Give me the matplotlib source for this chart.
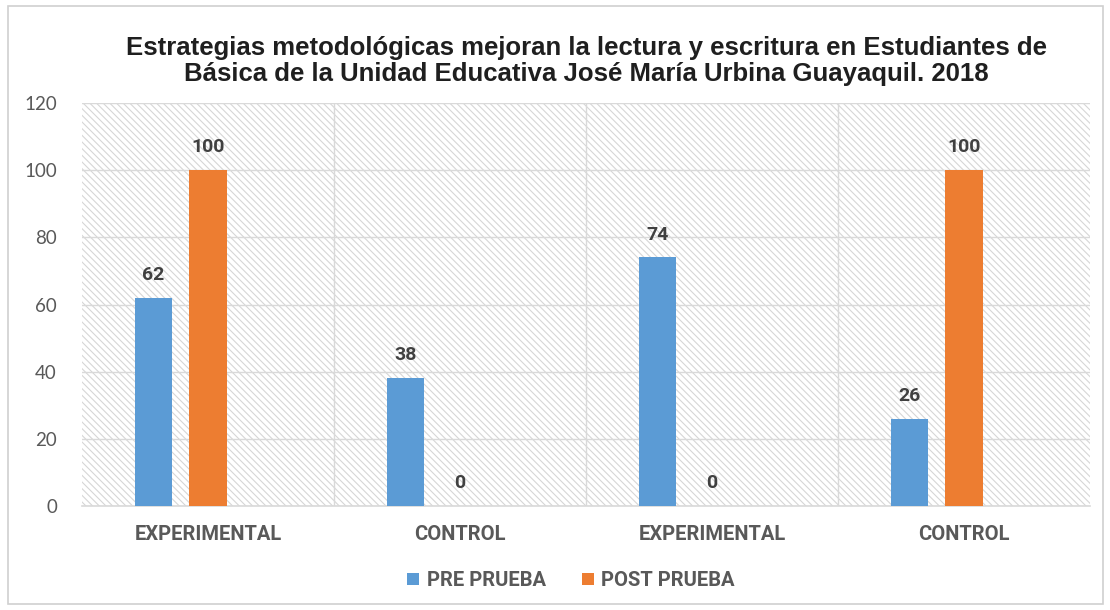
import numpy as np
import matplotlib.pyplot as plt
from matplotlib.patches import Rectangle

# datos del grafico
categorias = ['EXPERIMENTAL', 'CONTROL', 'EXPERIMENTAL', 'CONTROL']
pre_prueba = [62, 38, 74, 26]
post_prueba = [100, 0, 0, 100]
series = ['PRE PRUEBA', 'POST PRUEBA']
titulo = ('Estrategias metodológicas mejoran la lectura y escritura en Estudiantes de\n'
          'Básica de la Unidad Educativa José María Urbina Guayaquil. 2018')

azul = '#5B9BD5'
naranja = '#ED7D31'
gris_grid = '#D9D9D9'
gris_texto = '#595959'
fuente = 'Roboto'

fig = plt.figure(figsize=(11.1, 6.1), dpi=100)
ax = fig.add_axes([82 / 1110, 1 - 506 / 610, 1008 / 1110, 403 / 610])

# borde exterior del grafico
fig.patches.append(Rectangle((8 / 1110, 6 / 610), 1095 / 1110, 598 / 610,
                             transform=fig.transFigure, fill=False,
                             edgecolor='#D0D0D0', linewidth=1.2))

x = np.arange(len(categorias))
ancho = 0.147
paso = 0.218  # tres huecos por categoria, la tercera serie vacia

# fondo rayado
plt.rcParams['hatch.linewidth'] = 0.8
ax.add_patch(Rectangle((0, 0), 1, 1, transform=ax.transAxes, facecolor='white',
                       edgecolor='#D6D6D6', hatch='\\\\\\\\\\', linewidth=0, zorder=0))

b1 = ax.bar(x - paso, pre_prueba, ancho, color=azul, label=series[0], zorder=3)
b2 = ax.bar(x, post_prueba, ancho, color=naranja, label=series[1], zorder=3)

for barras in (b1, b2):
    for r in barras:
        h = r.get_height()
        ax.annotate(f'{h:g}', (r.get_x() + r.get_width() / 2, h),
                    xytext=(0, 10), textcoords='offset points', ha='center', va='bottom',
                    fontsize=14, fontweight='bold', color='#404040', family=fuente, zorder=4)

ax.set_xlim(-0.5, len(categorias) - 0.5)
ax.set_ylim(0, 120)
ax.set_yticks(np.arange(0, 121, 20))
ax.yaxis.grid(True, color=gris_grid, linewidth=1, zorder=1)
for xv in np.arange(0.5, len(categorias) - 0.5, 1):
    ax.axvline(xv, color=gris_grid, linewidth=1, zorder=1)
ax.set_axisbelow(True)

ax.set_xticks(x)
ax.set_xticklabels(categorias, fontsize=14.5, fontweight='bold', color=gris_texto, family=fuente)
for t in ax.get_yticklabels():
    t.set_fontsize(13.5)
    t.set_color(gris_texto)
    t.set_family('Lato')
ax.tick_params(axis='both', length=0)
ax.tick_params(axis='x', pad=14)
ax.tick_params(axis='y', pad=18)

for s in ['top', 'right', 'left']:
    ax.spines[s].set_visible(False)
ax.spines['bottom'].set_color(gris_grid)
ax.spines['bottom'].set_linewidth(1.2)

ax.set_title(titulo, fontsize=18.5, fontweight='bold', color='#1F1F1F',
             family='Liberation Sans', pad=16, linespacing=1.1)

ax.legend(loc='center', bbox_to_anchor=(0.485, -0.185), ncol=2, frameon=False,
          handlelength=0.6, handleheight=0.6, handletextpad=0.35, columnspacing=1.8,
          prop={'family': fuente, 'weight': 'bold', 'size': 14.5}, labelcolor=gris_texto)

fig.savefig('out.png', dpi=100)
